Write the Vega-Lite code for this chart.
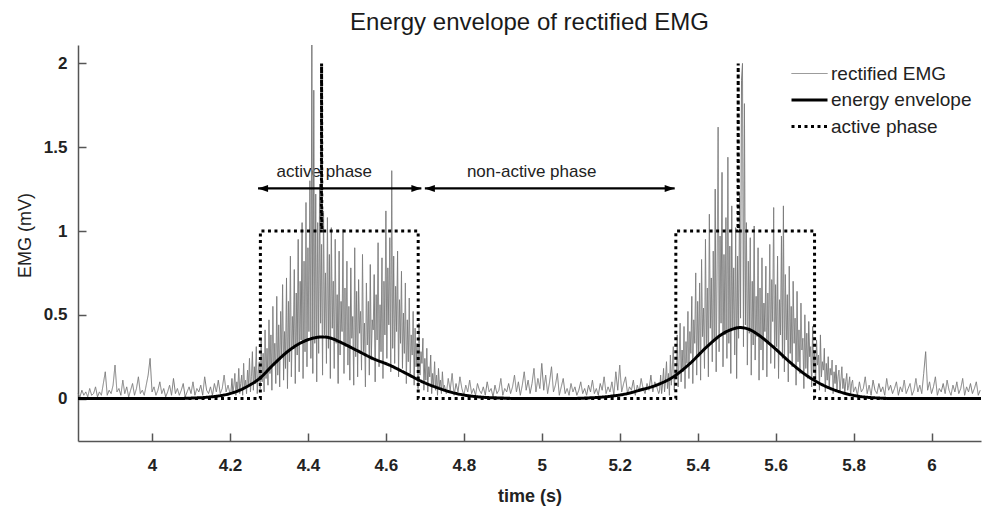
{
"$schema": "https://vega.github.io/schema/vega-lite/v6.json",
"width": 903, "height": 396,
"autosize": {"type": "none"},
"padding": {"left": 78, "top": 45, "right": 7, "bottom": 67},
"background": "white",
"title": {"text": "Energy envelope of rectified EMG", "fontSize": 24, "fontWeight": "normal", "font": "Liberation Sans", "color": "#1a1a1a", "frame": "group", "anchor": "middle", "baseline": "alphabetic", "offset": 13, "dy": 24},
"config": {
  "font": "Liberation Sans",
  "view": {"stroke": null},
  "axis": {"domainColor": "#555", "tickColor": "#555", "domainWidth": 1.5, "tickWidth": 1.5, "tickSize": -8, "labelFont": "Liberation Sans", "labelFontSize": 17, "labelFontWeight": "bold", "labelColor": "#222", "titleFont": "Liberation Sans", "titleColor": "#222", "grid": false}
},
"datasets": {
"emg": [
{"t":3.81,"v":0.03,"s":"rectified EMG"},{"t":3.815,"v":0.01,"s":"rectified EMG"},{"t":3.82,"v":0.05,"s":"rectified EMG"},{"t":3.825,"v":0.02,"s":"rectified EMG"},{"t":3.83,"v":0.04,"s":"rectified EMG"},{"t":3.835,"v":0.01,"s":"rectified EMG"},{"t":3.84,"v":0.06,"s":"rectified EMG"},{"t":3.845,"v":0.02,"s":"rectified EMG"},{"t":3.85,"v":0.03,"s":"rectified EMG"},{"t":3.855,"v":0.07,"s":"rectified EMG"},
{"t":3.86,"v":0.01,"s":"rectified EMG"},{"t":3.865,"v":0.04,"s":"rectified EMG"},{"t":3.87,"v":0.02,"s":"rectified EMG"},{"t":3.875,"v":0.09,"s":"rectified EMG"},{"t":3.88,"v":0.16,"s":"rectified EMG"},{"t":3.885,"v":0.02,"s":"rectified EMG"},{"t":3.89,"v":0.05,"s":"rectified EMG"},{"t":3.895,"v":0.03,"s":"rectified EMG"},{"t":3.9,"v":0.08,"s":"rectified EMG"},{"t":3.905,"v":0.2,"s":"rectified EMG"},
{"t":3.91,"v":0.04,"s":"rectified EMG"},{"t":3.915,"v":0.06,"s":"rectified EMG"},{"t":3.92,"v":0.02,"s":"rectified EMG"},{"t":3.925,"v":0.11,"s":"rectified EMG"},{"t":3.93,"v":0.03,"s":"rectified EMG"},{"t":3.935,"v":0.07,"s":"rectified EMG"},{"t":3.94,"v":0.01,"s":"rectified EMG"},{"t":3.945,"v":0.05,"s":"rectified EMG"},{"t":3.95,"v":0.09,"s":"rectified EMG"},{"t":3.955,"v":0.02,"s":"rectified EMG"},
{"t":3.96,"v":0.06,"s":"rectified EMG"},{"t":3.965,"v":0.13,"s":"rectified EMG"},{"t":3.97,"v":0.03,"s":"rectified EMG"},{"t":3.975,"v":0.05,"s":"rectified EMG"},{"t":3.98,"v":0.02,"s":"rectified EMG"},{"t":3.985,"v":0.08,"s":"rectified EMG"},{"t":3.99,"v":0.14,"s":"rectified EMG"},{"t":3.995,"v":0.24,"s":"rectified EMG"},{"t":4.0,"v":0.04,"s":"rectified EMG"},{"t":4.005,"v":0.07,"s":"rectified EMG"},
{"t":4.01,"v":0.02,"s":"rectified EMG"},{"t":4.015,"v":0.05,"s":"rectified EMG"},{"t":4.02,"v":0.1,"s":"rectified EMG"},{"t":4.025,"v":0.03,"s":"rectified EMG"},{"t":4.03,"v":0.06,"s":"rectified EMG"},{"t":4.035,"v":0.01,"s":"rectified EMG"},{"t":4.04,"v":0.04,"s":"rectified EMG"},{"t":4.045,"v":0.08,"s":"rectified EMG"},{"t":4.05,"v":0.02,"s":"rectified EMG"},{"t":4.055,"v":0.12,"s":"rectified EMG"},
{"t":4.06,"v":0.03,"s":"rectified EMG"},{"t":4.065,"v":0.06,"s":"rectified EMG"},{"t":4.07,"v":0.02,"s":"rectified EMG"},{"t":4.075,"v":0.05,"s":"rectified EMG"},{"t":4.08,"v":0.09,"s":"rectified EMG"},{"t":4.085,"v":0.01,"s":"rectified EMG"},{"t":4.09,"v":0.04,"s":"rectified EMG"},{"t":4.095,"v":0.07,"s":"rectified EMG"},{"t":4.1,"v":0.03,"s":"rectified EMG"},{"t":4.105,"v":0.1,"s":"rectified EMG"},
{"t":4.11,"v":0.02,"s":"rectified EMG"},{"t":4.115,"v":0.06,"s":"rectified EMG"},{"t":4.12,"v":0.04,"s":"rectified EMG"},{"t":4.125,"v":0.08,"s":"rectified EMG"},{"t":4.13,"v":0.02,"s":"rectified EMG"},{"t":4.135,"v":0.13,"s":"rectified EMG"},{"t":4.14,"v":0.05,"s":"rectified EMG"},{"t":4.145,"v":0.03,"s":"rectified EMG"},{"t":4.15,"v":0.07,"s":"rectified EMG"},{"t":4.155,"v":0.02,"s":"rectified EMG"},
{"t":4.16,"v":0.09,"s":"rectified EMG"},{"t":4.165,"v":0.04,"s":"rectified EMG"},{"t":4.17,"v":0.11,"s":"rectified EMG"},{"t":4.175,"v":0.03,"s":"rectified EMG"},{"t":4.18,"v":0.06,"s":"rectified EMG"},{"t":4.185,"v":0.14,"s":"rectified EMG"},{"t":4.19,"v":0.04,"s":"rectified EMG"},{"t":4.195,"v":0.08,"s":"rectified EMG"},{"t":4.2,"v":0.03,"s":"rectified EMG"},
{"t":4.2025,"v":0.04,"s":"rectified EMG"},{"t":4.205,"v":0.12,"s":"rectified EMG"},{"t":4.2075,"v":0.03,"s":"rectified EMG"},{"t":4.21,"v":0.08,"s":"rectified EMG"},{"t":4.2125,"v":0.15,"s":"rectified EMG"},{"t":4.215,"v":0.02,"s":"rectified EMG"},{"t":4.2175,"v":0.1,"s":"rectified EMG"},{"t":4.22,"v":0.05,"s":"rectified EMG"},{"t":4.2225,"v":0.18,"s":"rectified EMG"},{"t":4.225,"v":0.03,"s":"rectified EMG"},
{"t":4.2275,"v":0.09,"s":"rectified EMG"},{"t":4.23,"v":0.14,"s":"rectified EMG"},{"t":4.2325,"v":0.02,"s":"rectified EMG"},{"t":4.235,"v":0.21,"s":"rectified EMG"},{"t":4.2375,"v":0.06,"s":"rectified EMG"},{"t":4.24,"v":0.11,"s":"rectified EMG"},{"t":4.2425,"v":0.03,"s":"rectified EMG"},{"t":4.245,"v":0.17,"s":"rectified EMG"},{"t":4.2475,"v":0.07,"s":"rectified EMG"},{"t":4.25,"v":0.24,"s":"rectified EMG"},
{"t":4.2525,"v":0.04,"s":"rectified EMG"},{"t":4.255,"v":0.13,"s":"rectified EMG"},{"t":4.2575,"v":0.28,"s":"rectified EMG"},{"t":4.26,"v":0.05,"s":"rectified EMG"},{"t":4.2625,"v":0.19,"s":"rectified EMG"},{"t":4.265,"v":0.09,"s":"rectified EMG"},{"t":4.2675,"v":0.31,"s":"rectified EMG"},{"t":4.27,"v":0.03,"s":"rectified EMG"},{"t":4.2725,"v":0.16,"s":"rectified EMG"},{"t":4.275,"v":0.22,"s":"rectified EMG"},
{"t":4.2775,"v":0.06,"s":"rectified EMG"},{"t":4.28,"v":0.35,"s":"rectified EMG"},{"t":4.2825,"v":0.1,"s":"rectified EMG"},{"t":4.285,"v":0.27,"s":"rectified EMG"},{"t":4.2875,"v":0.04,"s":"rectified EMG"},{"t":4.29,"v":0.41,"s":"rectified EMG"},{"t":4.2925,"v":0.12,"s":"rectified EMG"},{"t":4.295,"v":0.3,"s":"rectified EMG"},{"t":4.2975,"v":0.08,"s":"rectified EMG"},{"t":4.3,"v":0.47,"s":"rectified EMG"},
{"t":4.3025,"v":0.15,"s":"rectified EMG"},{"t":4.305,"v":0.38,"s":"rectified EMG"},{"t":4.3075,"v":0.05,"s":"rectified EMG"},{"t":4.31,"v":0.55,"s":"rectified EMG"},{"t":4.3125,"v":0.2,"s":"rectified EMG"},{"t":4.315,"v":0.33,"s":"rectified EMG"},{"t":4.3175,"v":0.09,"s":"rectified EMG"},{"t":4.32,"v":0.61,"s":"rectified EMG"},{"t":4.3225,"v":0.14,"s":"rectified EMG"},{"t":4.325,"v":0.44,"s":"rectified EMG"},
{"t":4.3275,"v":0.07,"s":"rectified EMG"},{"t":4.33,"v":0.52,"s":"rectified EMG"},{"t":4.3325,"v":0.25,"s":"rectified EMG"},{"t":4.335,"v":0.68,"s":"rectified EMG"},{"t":4.3375,"v":0.11,"s":"rectified EMG"},{"t":4.34,"v":0.4,"s":"rectified EMG"},{"t":4.3425,"v":0.18,"s":"rectified EMG"},{"t":4.345,"v":0.72,"s":"rectified EMG"},{"t":4.3475,"v":0.06,"s":"rectified EMG"},{"t":4.35,"v":0.58,"s":"rectified EMG"},
{"t":4.3525,"v":0.22,"s":"rectified EMG"},{"t":4.355,"v":0.85,"s":"rectified EMG"},{"t":4.3575,"v":0.13,"s":"rectified EMG"},{"t":4.36,"v":0.49,"s":"rectified EMG"},{"t":4.3625,"v":0.3,"s":"rectified EMG"},{"t":4.365,"v":0.77,"s":"rectified EMG"},{"t":4.3675,"v":0.09,"s":"rectified EMG"},{"t":4.37,"v":0.63,"s":"rectified EMG"},{"t":4.3725,"v":0.26,"s":"rectified EMG"},{"t":4.375,"v":0.95,"s":"rectified EMG"},
{"t":4.3775,"v":0.16,"s":"rectified EMG"},{"t":4.38,"v":0.7,"s":"rectified EMG"},{"t":4.3825,"v":0.35,"s":"rectified EMG"},{"t":4.385,"v":1.05,"s":"rectified EMG"},{"t":4.3875,"v":0.12,"s":"rectified EMG"},{"t":4.39,"v":0.82,"s":"rectified EMG"},{"t":4.3925,"v":0.28,"s":"rectified EMG"},{"t":4.395,"v":1.17,"s":"rectified EMG"},{"t":4.3975,"v":0.19,"s":"rectified EMG"},{"t":4.4,"v":0.9,"s":"rectified EMG"},
{"t":4.4025,"v":0.4,"s":"rectified EMG"},{"t":4.405,"v":1.3,"s":"rectified EMG"},{"t":4.4075,"v":0.24,"s":"rectified EMG"},{"t":4.41,"v":2.11,"s":"rectified EMG"},{"t":4.4125,"v":0.15,"s":"rectified EMG"},{"t":4.415,"v":1.84,"s":"rectified EMG"},{"t":4.4175,"v":0.33,"s":"rectified EMG"},{"t":4.42,"v":1.22,"s":"rectified EMG"},{"t":4.4225,"v":0.1,"s":"rectified EMG"},{"t":4.425,"v":1.05,"s":"rectified EMG"},
{"t":4.4275,"v":0.27,"s":"rectified EMG"},{"t":4.43,"v":1.28,"s":"rectified EMG"},{"t":4.4325,"v":0.45,"s":"rectified EMG"},{"t":4.435,"v":0.92,"s":"rectified EMG"},{"t":4.4375,"v":0.14,"s":"rectified EMG"},{"t":4.44,"v":1.12,"s":"rectified EMG"},{"t":4.4425,"v":0.38,"s":"rectified EMG"},{"t":4.445,"v":0.75,"s":"rectified EMG"},{"t":4.4475,"v":0.21,"s":"rectified EMG"},{"t":4.45,"v":1.08,"s":"rectified EMG"},
{"t":4.4525,"v":0.3,"s":"rectified EMG"},{"t":4.455,"v":0.86,"s":"rectified EMG"},{"t":4.4575,"v":0.12,"s":"rectified EMG"},{"t":4.46,"v":1.02,"s":"rectified EMG"},{"t":4.4625,"v":0.42,"s":"rectified EMG"},{"t":4.465,"v":0.7,"s":"rectified EMG"},{"t":4.4675,"v":0.18,"s":"rectified EMG"},{"t":4.47,"v":0.95,"s":"rectified EMG"},{"t":4.4725,"v":0.33,"s":"rectified EMG"},{"t":4.475,"v":0.62,"s":"rectified EMG"},
{"t":4.4775,"v":0.09,"s":"rectified EMG"},{"t":4.48,"v":0.88,"s":"rectified EMG"},{"t":4.4825,"v":0.26,"s":"rectified EMG"},{"t":4.485,"v":0.58,"s":"rectified EMG"},{"t":4.4875,"v":0.4,"s":"rectified EMG"},{"t":4.49,"v":1.01,"s":"rectified EMG"},{"t":4.4925,"v":0.15,"s":"rectified EMG"},{"t":4.495,"v":0.66,"s":"rectified EMG"},{"t":4.4975,"v":0.31,"s":"rectified EMG"},{"t":4.5,"v":0.82,"s":"rectified EMG"},
{"t":4.5025,"v":0.2,"s":"rectified EMG"},{"t":4.505,"v":0.55,"s":"rectified EMG"},{"t":4.5075,"v":0.11,"s":"rectified EMG"},{"t":4.51,"v":0.78,"s":"rectified EMG"},{"t":4.5125,"v":0.36,"s":"rectified EMG"},{"t":4.515,"v":0.49,"s":"rectified EMG"},{"t":4.5175,"v":0.08,"s":"rectified EMG"},{"t":4.52,"v":0.9,"s":"rectified EMG"},{"t":4.5225,"v":0.25,"s":"rectified EMG"},{"t":4.525,"v":0.64,"s":"rectified EMG"},
{"t":4.5275,"v":0.13,"s":"rectified EMG"},{"t":4.53,"v":0.71,"s":"rectified EMG"},{"t":4.5325,"v":0.39,"s":"rectified EMG"},{"t":4.535,"v":0.52,"s":"rectified EMG"},{"t":4.5375,"v":0.17,"s":"rectified EMG"},{"t":4.54,"v":0.86,"s":"rectified EMG"},{"t":4.5425,"v":0.28,"s":"rectified EMG"},{"t":4.545,"v":0.45,"s":"rectified EMG"},{"t":4.5475,"v":0.07,"s":"rectified EMG"},{"t":4.55,"v":0.69,"s":"rectified EMG"},
{"t":4.5525,"v":0.32,"s":"rectified EMG"},{"t":4.555,"v":0.58,"s":"rectified EMG"},{"t":4.5575,"v":0.14,"s":"rectified EMG"},{"t":4.56,"v":0.8,"s":"rectified EMG"},{"t":4.5625,"v":0.23,"s":"rectified EMG"},{"t":4.565,"v":0.47,"s":"rectified EMG"},{"t":4.5675,"v":0.41,"s":"rectified EMG"},{"t":4.57,"v":0.74,"s":"rectified EMG"},{"t":4.5725,"v":0.1,"s":"rectified EMG"},{"t":4.575,"v":0.62,"s":"rectified EMG"},
{"t":4.5775,"v":0.35,"s":"rectified EMG"},{"t":4.58,"v":0.93,"s":"rectified EMG"},{"t":4.5825,"v":0.19,"s":"rectified EMG"},{"t":4.585,"v":0.56,"s":"rectified EMG"},{"t":4.5875,"v":0.28,"s":"rectified EMG"},{"t":4.59,"v":0.84,"s":"rectified EMG"},{"t":4.5925,"v":0.12,"s":"rectified EMG"},{"t":4.595,"v":0.7,"s":"rectified EMG"},{"t":4.5975,"v":0.38,"s":"rectified EMG"},{"t":4.6,"v":1.12,"s":"rectified EMG"},
{"t":4.6025,"v":0.24,"s":"rectified EMG"},{"t":4.605,"v":0.78,"s":"rectified EMG"},{"t":4.6075,"v":0.44,"s":"rectified EMG"},{"t":4.61,"v":0.96,"s":"rectified EMG"},{"t":4.6125,"v":0.16,"s":"rectified EMG"},{"t":4.615,"v":1.36,"s":"rectified EMG"},{"t":4.6175,"v":0.3,"s":"rectified EMG"},{"t":4.62,"v":0.85,"s":"rectified EMG"},{"t":4.6225,"v":0.21,"s":"rectified EMG"},{"t":4.625,"v":0.67,"s":"rectified EMG"},
{"t":4.6275,"v":0.4,"s":"rectified EMG"},{"t":4.63,"v":0.88,"s":"rectified EMG"},{"t":4.6325,"v":0.13,"s":"rectified EMG"},{"t":4.635,"v":0.59,"s":"rectified EMG"},{"t":4.6375,"v":0.33,"s":"rectified EMG"},{"t":4.64,"v":0.76,"s":"rectified EMG"},{"t":4.6425,"v":0.18,"s":"rectified EMG"},{"t":4.645,"v":0.51,"s":"rectified EMG"},{"t":4.6475,"v":0.27,"s":"rectified EMG"},{"t":4.65,"v":0.69,"s":"rectified EMG"},
{"t":4.6525,"v":0.09,"s":"rectified EMG"},{"t":4.655,"v":0.47,"s":"rectified EMG"},{"t":4.6575,"v":0.22,"s":"rectified EMG"},{"t":4.66,"v":0.6,"s":"rectified EMG"},{"t":4.6625,"v":0.15,"s":"rectified EMG"},{"t":4.665,"v":0.38,"s":"rectified EMG"},{"t":4.6675,"v":0.26,"s":"rectified EMG"},{"t":4.67,"v":0.52,"s":"rectified EMG"},{"t":4.6725,"v":0.08,"s":"rectified EMG"},{"t":4.675,"v":0.42,"s":"rectified EMG"},
{"t":4.6775,"v":0.19,"s":"rectified EMG"},{"t":4.68,"v":0.33,"s":"rectified EMG"},{"t":4.6825,"v":0.06,"s":"rectified EMG"},{"t":4.685,"v":0.45,"s":"rectified EMG"},{"t":4.6875,"v":0.14,"s":"rectified EMG"},{"t":4.69,"v":0.28,"s":"rectified EMG"},{"t":4.6925,"v":0.21,"s":"rectified EMG"},{"t":4.695,"v":0.36,"s":"rectified EMG"},{"t":4.6975,"v":0.05,"s":"rectified EMG"},{"t":4.7,"v":0.24,"s":"rectified EMG"},
{"t":4.7025,"v":0.11,"s":"rectified EMG"},{"t":4.705,"v":0.3,"s":"rectified EMG"},{"t":4.7075,"v":0.04,"s":"rectified EMG"},{"t":4.71,"v":0.19,"s":"rectified EMG"},{"t":4.7125,"v":0.13,"s":"rectified EMG"},{"t":4.715,"v":0.26,"s":"rectified EMG"},{"t":4.7175,"v":0.03,"s":"rectified EMG"},{"t":4.72,"v":0.15,"s":"rectified EMG"},{"t":4.7225,"v":0.08,"s":"rectified EMG"},{"t":4.725,"v":0.22,"s":"rectified EMG"},
{"t":4.7275,"v":0.05,"s":"rectified EMG"},{"t":4.73,"v":0.14,"s":"rectified EMG"},{"t":4.7325,"v":0.02,"s":"rectified EMG"},{"t":4.735,"v":0.18,"s":"rectified EMG"},{"t":4.7375,"v":0.07,"s":"rectified EMG"},{"t":4.74,"v":0.11,"s":"rectified EMG"},{"t":4.7425,"v":0.03,"s":"rectified EMG"},{"t":4.745,"v":0.16,"s":"rectified EMG"},{"t":4.7475,"v":0.06,"s":"rectified EMG"},
{"t":4.75,"v":0.08,"s":"rectified EMG"},{"t":4.755,"v":0.03,"s":"rectified EMG"},{"t":4.76,"v":0.12,"s":"rectified EMG"},{"t":4.765,"v":0.05,"s":"rectified EMG"},{"t":4.77,"v":0.15,"s":"rectified EMG"},{"t":4.775,"v":0.02,"s":"rectified EMG"},{"t":4.78,"v":0.09,"s":"rectified EMG"},{"t":4.785,"v":0.04,"s":"rectified EMG"},{"t":4.79,"v":0.13,"s":"rectified EMG"},{"t":4.795,"v":0.06,"s":"rectified EMG"},
{"t":4.8,"v":0.02,"s":"rectified EMG"},{"t":4.805,"v":0.08,"s":"rectified EMG"},{"t":4.81,"v":0.04,"s":"rectified EMG"},{"t":4.815,"v":0.11,"s":"rectified EMG"},{"t":4.82,"v":0.03,"s":"rectified EMG"},{"t":4.825,"v":0.06,"s":"rectified EMG"},{"t":4.83,"v":0.02,"s":"rectified EMG"},{"t":4.835,"v":0.09,"s":"rectified EMG"},{"t":4.84,"v":0.05,"s":"rectified EMG"},{"t":4.845,"v":0.03,"s":"rectified EMG"},
{"t":4.85,"v":0.07,"s":"rectified EMG"},{"t":4.855,"v":0.02,"s":"rectified EMG"},{"t":4.86,"v":0.1,"s":"rectified EMG"},{"t":4.865,"v":0.04,"s":"rectified EMG"},{"t":4.87,"v":0.06,"s":"rectified EMG"},{"t":4.875,"v":0.01,"s":"rectified EMG"},{"t":4.88,"v":0.08,"s":"rectified EMG"},{"t":4.885,"v":0.03,"s":"rectified EMG"},{"t":4.89,"v":0.05,"s":"rectified EMG"},{"t":4.895,"v":0.12,"s":"rectified EMG"},
{"t":4.9,"v":0.02,"s":"rectified EMG"},{"t":4.905,"v":0.06,"s":"rectified EMG"},{"t":4.91,"v":0.04,"s":"rectified EMG"},{"t":4.915,"v":0.09,"s":"rectified EMG"},{"t":4.92,"v":0.03,"s":"rectified EMG"},{"t":4.925,"v":0.07,"s":"rectified EMG"},{"t":4.93,"v":0.14,"s":"rectified EMG"},{"t":4.935,"v":0.04,"s":"rectified EMG"},{"t":4.94,"v":0.1,"s":"rectified EMG"},{"t":4.945,"v":0.02,"s":"rectified EMG"},
{"t":4.95,"v":0.08,"s":"rectified EMG"},{"t":4.955,"v":0.16,"s":"rectified EMG"},{"t":4.96,"v":0.05,"s":"rectified EMG"},{"t":4.965,"v":0.11,"s":"rectified EMG"},{"t":4.97,"v":0.03,"s":"rectified EMG"},{"t":4.975,"v":0.09,"s":"rectified EMG"},{"t":4.98,"v":0.18,"s":"rectified EMG"},{"t":4.985,"v":0.04,"s":"rectified EMG"},{"t":4.99,"v":0.12,"s":"rectified EMG"},{"t":4.995,"v":0.06,"s":"rectified EMG"},
{"t":5.0,"v":0.21,"s":"rectified EMG"},{"t":5.005,"v":0.05,"s":"rectified EMG"},{"t":5.01,"v":0.14,"s":"rectified EMG"},{"t":5.015,"v":0.03,"s":"rectified EMG"},{"t":5.02,"v":0.1,"s":"rectified EMG"},{"t":5.025,"v":0.19,"s":"rectified EMG"},{"t":5.03,"v":0.04,"s":"rectified EMG"},{"t":5.035,"v":0.08,"s":"rectified EMG"},{"t":5.04,"v":0.15,"s":"rectified EMG"},{"t":5.045,"v":0.02,"s":"rectified EMG"},
{"t":5.05,"v":0.07,"s":"rectified EMG"},{"t":5.055,"v":0.12,"s":"rectified EMG"},{"t":5.06,"v":0.03,"s":"rectified EMG"},{"t":5.065,"v":0.06,"s":"rectified EMG"},{"t":5.07,"v":0.02,"s":"rectified EMG"},{"t":5.075,"v":0.09,"s":"rectified EMG"},{"t":5.08,"v":0.04,"s":"rectified EMG"},{"t":5.085,"v":0.07,"s":"rectified EMG"},{"t":5.09,"v":0.02,"s":"rectified EMG"},{"t":5.095,"v":0.05,"s":"rectified EMG"},
{"t":5.1,"v":0.1,"s":"rectified EMG"},{"t":5.105,"v":0.03,"s":"rectified EMG"},{"t":5.11,"v":0.06,"s":"rectified EMG"},{"t":5.115,"v":0.02,"s":"rectified EMG"},{"t":5.12,"v":0.08,"s":"rectified EMG"},{"t":5.125,"v":0.04,"s":"rectified EMG"},{"t":5.13,"v":0.11,"s":"rectified EMG"},{"t":5.135,"v":0.03,"s":"rectified EMG"},{"t":5.14,"v":0.06,"s":"rectified EMG"},{"t":5.145,"v":0.02,"s":"rectified EMG"},
{"t":5.15,"v":0.09,"s":"rectified EMG"},{"t":5.155,"v":0.05,"s":"rectified EMG"},{"t":5.16,"v":0.13,"s":"rectified EMG"},{"t":5.165,"v":0.03,"s":"rectified EMG"},{"t":5.17,"v":0.07,"s":"rectified EMG"},{"t":5.175,"v":0.04,"s":"rectified EMG"},{"t":5.18,"v":0.1,"s":"rectified EMG"},{"t":5.185,"v":0.02,"s":"rectified EMG"},{"t":5.19,"v":0.16,"s":"rectified EMG"},{"t":5.195,"v":0.05,"s":"rectified EMG"},
{"t":5.2,"v":0.2,"s":"rectified EMG"},{"t":5.205,"v":0.04,"s":"rectified EMG"},{"t":5.21,"v":0.09,"s":"rectified EMG"},{"t":5.215,"v":0.13,"s":"rectified EMG"},{"t":5.22,"v":0.03,"s":"rectified EMG"},{"t":5.225,"v":0.07,"s":"rectified EMG"},{"t":5.23,"v":0.05,"s":"rectified EMG"},{"t":5.235,"v":0.11,"s":"rectified EMG"},{"t":5.24,"v":0.02,"s":"rectified EMG"},{"t":5.245,"v":0.08,"s":"rectified EMG"},
{"t":5.25,"v":0.04,"s":"rectified EMG"},{"t":5.255,"v":0.12,"s":"rectified EMG"},{"t":5.26,"v":0.06,"s":"rectified EMG"},{"t":5.265,"v":0.03,"s":"rectified EMG"},{"t":5.27,"v":0.09,"s":"rectified EMG"},{"t":5.275,"v":0.05,"s":"rectified EMG"},{"t":5.28,"v":0.14,"s":"rectified EMG"},{"t":5.285,"v":0.04,"s":"rectified EMG"},{"t":5.29,"v":0.1,"s":"rectified EMG"},{"t":5.295,"v":0.07,"s":"rectified EMG"},
{"t":5.3,"v":0.03,"s":"rectified EMG"},
{"t":5.3025,"v":0.05,"s":"rectified EMG"},{"t":5.305,"v":0.14,"s":"rectified EMG"},{"t":5.3075,"v":0.03,"s":"rectified EMG"},{"t":5.31,"v":0.09,"s":"rectified EMG"},{"t":5.3125,"v":0.18,"s":"rectified EMG"},{"t":5.315,"v":0.04,"s":"rectified EMG"},{"t":5.3175,"v":0.11,"s":"rectified EMG"},{"t":5.32,"v":0.22,"s":"rectified EMG"},{"t":5.3225,"v":0.06,"s":"rectified EMG"},{"t":5.325,"v":0.15,"s":"rectified EMG"},
{"t":5.3275,"v":0.02,"s":"rectified EMG"},{"t":5.33,"v":0.26,"s":"rectified EMG"},{"t":5.3325,"v":0.08,"s":"rectified EMG"},{"t":5.335,"v":0.19,"s":"rectified EMG"},{"t":5.3375,"v":0.31,"s":"rectified EMG"},{"t":5.34,"v":0.05,"s":"rectified EMG"},{"t":5.3425,"v":0.17,"s":"rectified EMG"},{"t":5.345,"v":0.12,"s":"rectified EMG"},{"t":5.3475,"v":0.38,"s":"rectified EMG"},{"t":5.35,"v":0.07,"s":"rectified EMG"},
{"t":5.3525,"v":0.24,"s":"rectified EMG"},{"t":5.355,"v":0.45,"s":"rectified EMG"},{"t":5.3575,"v":0.1,"s":"rectified EMG"},{"t":5.36,"v":0.29,"s":"rectified EMG"},{"t":5.3625,"v":0.16,"s":"rectified EMG"},{"t":5.365,"v":0.43,"s":"rectified EMG"},{"t":5.3675,"v":0.06,"s":"rectified EMG"},{"t":5.37,"v":0.34,"s":"rectified EMG"},{"t":5.3725,"v":0.21,"s":"rectified EMG"},{"t":5.375,"v":0.52,"s":"rectified EMG"},
{"t":5.3775,"v":0.12,"s":"rectified EMG"},{"t":5.38,"v":0.4,"s":"rectified EMG"},{"t":5.3825,"v":0.27,"s":"rectified EMG"},{"t":5.385,"v":0.61,"s":"rectified EMG"},{"t":5.3875,"v":0.09,"s":"rectified EMG"},{"t":5.39,"v":0.47,"s":"rectified EMG"},{"t":5.3925,"v":0.33,"s":"rectified EMG"},{"t":5.395,"v":0.75,"s":"rectified EMG"},{"t":5.3975,"v":0.14,"s":"rectified EMG"},{"t":5.4,"v":0.58,"s":"rectified EMG"},
{"t":5.4025,"v":0.25,"s":"rectified EMG"},{"t":5.405,"v":0.69,"s":"rectified EMG"},{"t":5.4075,"v":0.11,"s":"rectified EMG"},{"t":5.41,"v":0.83,"s":"rectified EMG"},{"t":5.4125,"v":0.37,"s":"rectified EMG"},{"t":5.415,"v":0.54,"s":"rectified EMG"},{"t":5.4175,"v":0.18,"s":"rectified EMG"},{"t":5.42,"v":0.95,"s":"rectified EMG"},{"t":5.4225,"v":0.3,"s":"rectified EMG"},{"t":5.425,"v":0.66,"s":"rectified EMG"},
{"t":5.4275,"v":0.13,"s":"rectified EMG"},{"t":5.43,"v":1.1,"s":"rectified EMG"},{"t":5.4325,"v":0.42,"s":"rectified EMG"},{"t":5.435,"v":0.72,"s":"rectified EMG"},{"t":5.4375,"v":0.22,"s":"rectified EMG"},{"t":5.44,"v":0.88,"s":"rectified EMG"},{"t":5.4425,"v":0.35,"s":"rectified EMG"},{"t":5.445,"v":1.25,"s":"rectified EMG"},{"t":5.4475,"v":0.16,"s":"rectified EMG"},{"t":5.45,"v":0.8,"s":"rectified EMG"},
{"t":5.4525,"v":1.62,"s":"rectified EMG"},{"t":5.455,"v":0.28,"s":"rectified EMG"},{"t":5.4575,"v":0.97,"s":"rectified EMG"},{"t":5.46,"v":0.45,"s":"rectified EMG"},{"t":5.4625,"v":1.35,"s":"rectified EMG"},{"t":5.465,"v":0.19,"s":"rectified EMG"},{"t":5.4675,"v":0.86,"s":"rectified EMG"},{"t":5.47,"v":0.38,"s":"rectified EMG"},{"t":5.4725,"v":1.08,"s":"rectified EMG"},{"t":5.475,"v":0.24,"s":"rectified EMG"},
{"t":5.4775,"v":1.44,"s":"rectified EMG"},{"t":5.48,"v":0.33,"s":"rectified EMG"},{"t":5.4825,"v":0.91,"s":"rectified EMG"},{"t":5.485,"v":0.15,"s":"rectified EMG"},{"t":5.4875,"v":1.15,"s":"rectified EMG"},{"t":5.49,"v":0.41,"s":"rectified EMG"},{"t":5.4925,"v":0.78,"s":"rectified EMG"},{"t":5.495,"v":0.26,"s":"rectified EMG"},{"t":5.4975,"v":1.02,"s":"rectified EMG"},{"t":5.5,"v":0.12,"s":"rectified EMG"},
{"t":5.5025,"v":0.85,"s":"rectified EMG"},{"t":5.505,"v":0.36,"s":"rectified EMG"},{"t":5.5075,"v":1.21,"s":"rectified EMG"},{"t":5.51,"v":0.48,"s":"rectified EMG"},{"t":5.5125,"v":1.9,"s":"rectified EMG"},{"t":5.515,"v":2.0,"s":"rectified EMG"},{"t":5.5175,"v":0.31,"s":"rectified EMG"},{"t":5.52,"v":1.76,"s":"rectified EMG"},{"t":5.5225,"v":0.44,"s":"rectified EMG"},{"t":5.525,"v":1.05,"s":"rectified EMG"},
{"t":5.5275,"v":0.2,"s":"rectified EMG"},{"t":5.53,"v":0.82,"s":"rectified EMG"},{"t":5.5325,"v":0.39,"s":"rectified EMG"},{"t":5.535,"v":0.96,"s":"rectified EMG"},{"t":5.5375,"v":0.14,"s":"rectified EMG"},{"t":5.54,"v":0.7,"s":"rectified EMG"},{"t":5.5425,"v":0.32,"s":"rectified EMG"},{"t":5.545,"v":1.03,"s":"rectified EMG"},{"t":5.5475,"v":0.23,"s":"rectified EMG"},{"t":5.55,"v":0.61,"s":"rectified EMG"},
{"t":5.5525,"v":0.37,"s":"rectified EMG"},{"t":5.555,"v":0.9,"s":"rectified EMG"},{"t":5.5575,"v":0.11,"s":"rectified EMG"},{"t":5.56,"v":0.66,"s":"rectified EMG"},{"t":5.5625,"v":0.29,"s":"rectified EMG"},{"t":5.565,"v":0.84,"s":"rectified EMG"},{"t":5.5675,"v":0.17,"s":"rectified EMG"},{"t":5.57,"v":0.57,"s":"rectified EMG"},{"t":5.5725,"v":0.4,"s":"rectified EMG"},{"t":5.575,"v":0.79,"s":"rectified EMG"},
{"t":5.5775,"v":0.13,"s":"rectified EMG"},{"t":5.58,"v":0.63,"s":"rectified EMG"},{"t":5.5825,"v":0.34,"s":"rectified EMG"},{"t":5.585,"v":0.92,"s":"rectified EMG"},{"t":5.5875,"v":0.21,"s":"rectified EMG"},{"t":5.59,"v":0.71,"s":"rectified EMG"},{"t":5.5925,"v":0.46,"s":"rectified EMG"},{"t":5.595,"v":1.14,"s":"rectified EMG"},{"t":5.5975,"v":0.18,"s":"rectified EMG"},{"t":5.6,"v":0.68,"s":"rectified EMG"},
{"t":5.6025,"v":0.31,"s":"rectified EMG"},{"t":5.605,"v":0.85,"s":"rectified EMG"},{"t":5.6075,"v":0.12,"s":"rectified EMG"},{"t":5.61,"v":0.59,"s":"rectified EMG"},{"t":5.6125,"v":0.38,"s":"rectified EMG"},{"t":5.615,"v":0.97,"s":"rectified EMG"},{"t":5.6175,"v":0.24,"s":"rectified EMG"},{"t":5.62,"v":1.15,"s":"rectified EMG"},{"t":5.6225,"v":0.16,"s":"rectified EMG"},{"t":5.625,"v":0.74,"s":"rectified EMG"},
{"t":5.6275,"v":0.35,"s":"rectified EMG"},{"t":5.63,"v":0.62,"s":"rectified EMG"},{"t":5.6325,"v":0.1,"s":"rectified EMG"},{"t":5.635,"v":0.79,"s":"rectified EMG"},{"t":5.6375,"v":0.27,"s":"rectified EMG"},{"t":5.64,"v":0.55,"s":"rectified EMG"},{"t":5.6425,"v":0.19,"s":"rectified EMG"},{"t":5.645,"v":0.7,"s":"rectified EMG"},{"t":5.6475,"v":0.33,"s":"rectified EMG"},{"t":5.65,"v":0.48,"s":"rectified EMG"},
{"t":5.6525,"v":0.08,"s":"rectified EMG"},{"t":5.655,"v":0.64,"s":"rectified EMG"},{"t":5.6575,"v":0.22,"s":"rectified EMG"},{"t":5.66,"v":0.41,"s":"rectified EMG"},{"t":5.6625,"v":0.15,"s":"rectified EMG"},{"t":5.665,"v":0.57,"s":"rectified EMG"},{"t":5.6675,"v":0.29,"s":"rectified EMG"},{"t":5.67,"v":0.36,"s":"rectified EMG"},{"t":5.6725,"v":0.06,"s":"rectified EMG"},{"t":5.675,"v":0.5,"s":"rectified EMG"},
{"t":5.6775,"v":0.18,"s":"rectified EMG"},{"t":5.68,"v":0.39,"s":"rectified EMG"},{"t":5.6825,"v":0.12,"s":"rectified EMG"},{"t":5.685,"v":0.46,"s":"rectified EMG"},{"t":5.6875,"v":0.25,"s":"rectified EMG"},{"t":5.69,"v":0.31,"s":"rectified EMG"},{"t":5.6925,"v":0.07,"s":"rectified EMG"},{"t":5.695,"v":0.43,"s":"rectified EMG"},{"t":5.6975,"v":0.16,"s":"rectified EMG"},{"t":5.7,"v":0.28,"s":"rectified EMG"},
{"t":5.7025,"v":0.09,"s":"rectified EMG"},{"t":5.705,"v":0.35,"s":"rectified EMG"},{"t":5.7075,"v":0.2,"s":"rectified EMG"},{"t":5.71,"v":0.26,"s":"rectified EMG"},{"t":5.7125,"v":0.05,"s":"rectified EMG"},{"t":5.715,"v":0.38,"s":"rectified EMG"},{"t":5.7175,"v":0.13,"s":"rectified EMG"},{"t":5.72,"v":0.22,"s":"rectified EMG"},{"t":5.7225,"v":0.17,"s":"rectified EMG"},{"t":5.725,"v":0.3,"s":"rectified EMG"},
{"t":5.7275,"v":0.04,"s":"rectified EMG"},{"t":5.73,"v":0.21,"s":"rectified EMG"},{"t":5.7325,"v":0.11,"s":"rectified EMG"},{"t":5.735,"v":0.25,"s":"rectified EMG"},{"t":5.7375,"v":0.06,"s":"rectified EMG"},{"t":5.74,"v":0.18,"s":"rectified EMG"},{"t":5.7425,"v":0.14,"s":"rectified EMG"},{"t":5.745,"v":0.23,"s":"rectified EMG"},{"t":5.7475,"v":0.03,"s":"rectified EMG"},{"t":5.75,"v":0.16,"s":"rectified EMG"},
{"t":5.7525,"v":0.09,"s":"rectified EMG"},{"t":5.755,"v":0.2,"s":"rectified EMG"},{"t":5.7575,"v":0.05,"s":"rectified EMG"},{"t":5.76,"v":0.13,"s":"rectified EMG"},{"t":5.7625,"v":0.17,"s":"rectified EMG"},{"t":5.765,"v":0.04,"s":"rectified EMG"},{"t":5.7675,"v":0.11,"s":"rectified EMG"},{"t":5.77,"v":0.19,"s":"rectified EMG"},{"t":5.7725,"v":0.06,"s":"rectified EMG"},{"t":5.775,"v":0.12,"s":"rectified EMG"},
{"t":5.7775,"v":0.03,"s":"rectified EMG"},{"t":5.78,"v":0.1,"s":"rectified EMG"},{"t":5.7825,"v":0.15,"s":"rectified EMG"},{"t":5.785,"v":0.05,"s":"rectified EMG"},{"t":5.7875,"v":0.08,"s":"rectified EMG"},{"t":5.79,"v":0.13,"s":"rectified EMG"},{"t":5.7925,"v":0.02,"s":"rectified EMG"},{"t":5.795,"v":0.09,"s":"rectified EMG"},{"t":5.7975,"v":0.11,"s":"rectified EMG"},{"t":5.8,"v":0.04,"s":"rectified EMG"},
{"t":5.805,"v":0.07,"s":"rectified EMG"},{"t":5.81,"v":0.02,"s":"rectified EMG"},{"t":5.815,"v":0.1,"s":"rectified EMG"},{"t":5.82,"v":0.04,"s":"rectified EMG"},{"t":5.825,"v":0.06,"s":"rectified EMG"},{"t":5.83,"v":0.13,"s":"rectified EMG"},{"t":5.835,"v":0.03,"s":"rectified EMG"},{"t":5.84,"v":0.08,"s":"rectified EMG"},{"t":5.845,"v":0.02,"s":"rectified EMG"},{"t":5.85,"v":0.11,"s":"rectified EMG"},
{"t":5.855,"v":0.05,"s":"rectified EMG"},{"t":5.86,"v":0.03,"s":"rectified EMG"},{"t":5.865,"v":0.09,"s":"rectified EMG"},{"t":5.87,"v":0.04,"s":"rectified EMG"},{"t":5.875,"v":0.07,"s":"rectified EMG"},{"t":5.88,"v":0.02,"s":"rectified EMG"},{"t":5.885,"v":0.12,"s":"rectified EMG"},{"t":5.89,"v":0.05,"s":"rectified EMG"},{"t":5.895,"v":0.08,"s":"rectified EMG"},{"t":5.9,"v":0.03,"s":"rectified EMG"},
{"t":5.905,"v":0.06,"s":"rectified EMG"},{"t":5.91,"v":0.1,"s":"rectified EMG"},{"t":5.915,"v":0.02,"s":"rectified EMG"},{"t":5.92,"v":0.07,"s":"rectified EMG"},{"t":5.925,"v":0.04,"s":"rectified EMG"},{"t":5.93,"v":0.11,"s":"rectified EMG"},{"t":5.935,"v":0.03,"s":"rectified EMG"},{"t":5.94,"v":0.06,"s":"rectified EMG"},{"t":5.945,"v":0.09,"s":"rectified EMG"},{"t":5.95,"v":0.02,"s":"rectified EMG"},
{"t":5.955,"v":0.05,"s":"rectified EMG"},{"t":5.96,"v":0.12,"s":"rectified EMG"},{"t":5.965,"v":0.04,"s":"rectified EMG"},{"t":5.97,"v":0.08,"s":"rectified EMG"},{"t":5.975,"v":0.03,"s":"rectified EMG"},{"t":5.98,"v":0.15,"s":"rectified EMG"},{"t":5.985,"v":0.28,"s":"rectified EMG"},{"t":5.99,"v":0.05,"s":"rectified EMG"},{"t":5.995,"v":0.1,"s":"rectified EMG"},{"t":6.0,"v":0.03,"s":"rectified EMG"},
{"t":6.005,"v":0.07,"s":"rectified EMG"},{"t":6.01,"v":0.13,"s":"rectified EMG"},{"t":6.015,"v":0.02,"s":"rectified EMG"},{"t":6.02,"v":0.06,"s":"rectified EMG"},{"t":6.025,"v":0.04,"s":"rectified EMG"},{"t":6.03,"v":0.09,"s":"rectified EMG"},{"t":6.035,"v":0.03,"s":"rectified EMG"},{"t":6.04,"v":0.11,"s":"rectified EMG"},{"t":6.045,"v":0.05,"s":"rectified EMG"},{"t":6.05,"v":0.02,"s":"rectified EMG"},
{"t":6.055,"v":0.08,"s":"rectified EMG"},{"t":6.06,"v":0.04,"s":"rectified EMG"},{"t":6.065,"v":0.1,"s":"rectified EMG"},{"t":6.07,"v":0.03,"s":"rectified EMG"},{"t":6.075,"v":0.06,"s":"rectified EMG"},{"t":6.08,"v":0.12,"s":"rectified EMG"},{"t":6.085,"v":0.02,"s":"rectified EMG"},{"t":6.09,"v":0.07,"s":"rectified EMG"},{"t":6.095,"v":0.04,"s":"rectified EMG"},{"t":6.1,"v":0.09,"s":"rectified EMG"},
{"t":6.105,"v":0.03,"s":"rectified EMG"},{"t":6.11,"v":0.06,"s":"rectified EMG"},{"t":6.115,"v":0.1,"s":"rectified EMG"},{"t":6.12,"v":0.02,"s":"rectified EMG"},{"t":6.125,"v":0.05,"s":"rectified EMG"}
],
"env": [
{"t":3.81,"v":0,"s":"energy envelope"},{"t":4.05,"v":0,"s":"energy envelope"},{"t":4.1,"v":0.003,"s":"energy envelope"},{"t":4.15,"v":0.01,"s":"energy envelope"},{"t":4.2,"v":0.03,"s":"energy envelope"},{"t":4.225,"v":0.05,"s":"energy envelope"},{"t":4.25,"v":0.08,"s":"energy envelope"},{"t":4.276,"v":0.12,"s":"energy envelope"},{"t":4.31,"v":0.2,"s":"energy envelope"},{"t":4.353,"v":0.29,"s":"energy envelope"},{"t":4.396,"v":0.348,"s":"energy envelope"},{"t":4.42,"v":0.364,"s":"energy envelope"},{"t":4.439,"v":0.368,"s":"energy envelope"},{"t":4.46,"v":0.36,"s":"energy envelope"},{"t":4.482,"v":0.338,"s":"energy envelope"},{"t":4.525,"v":0.288,"s":"energy envelope"},{"t":4.567,"v":0.239,"s":"energy envelope"},{"t":4.61,"v":0.199,"s":"energy envelope"},{"t":4.653,"v":0.149,"s":"energy envelope"},{"t":4.695,"v":0.099,"s":"energy envelope"},{"t":4.738,"v":0.06,"s":"energy envelope"},{"t":4.781,"v":0.03,"s":"energy envelope"},{"t":4.83,"v":0.012,"s":"energy envelope"},{"t":4.9,"v":0.003,"s":"energy envelope"},{"t":4.95,"v":0,"s":"energy envelope"},{"t":5.05,"v":0,"s":"energy envelope"},{"t":5.12,"v":0.004,"s":"energy envelope"},{"t":5.18,"v":0.015,"s":"energy envelope"},{"t":5.22,"v":0.03,"s":"energy envelope"},{"t":5.251,"v":0.05,"s":"energy envelope"},{"t":5.294,"v":0.08,"s":"energy envelope"},{"t":5.337,"v":0.129,"s":"energy envelope"},{"t":5.38,"v":0.209,"s":"energy envelope"},{"t":5.423,"v":0.308,"s":"energy envelope"},{"t":5.465,"v":0.388,"s":"energy envelope"},{"t":5.49,"v":0.415,"s":"energy envelope"},{"t":5.508,"v":0.424,"s":"energy envelope"},{"t":5.53,"v":0.415,"s":"energy envelope"},{"t":5.551,"v":0.388,"s":"energy envelope"},{"t":5.594,"v":0.308,"s":"energy envelope"},{"t":5.636,"v":0.219,"s":"energy envelope"},{"t":5.679,"v":0.139,"s":"energy envelope"},{"t":5.722,"v":0.08,"s":"energy envelope"},{"t":5.765,"v":0.04,"s":"energy envelope"},{"t":5.81,"v":0.015,"s":"energy envelope"},{"t":5.86,"v":0.004,"s":"energy envelope"},{"t":5.92,"v":0,"s":"energy envelope"},{"t":6.127,"v":0,"s":"energy envelope"}
],
"act": [
{"t":3.81,"v":0,"s":"active phase"},{"t":4.2779,"v":0,"s":"active phase"},{"t":4.278,"v":1,"s":"active phase"},{"t":4.4345,"v":1,"s":"active phase"},{"t":4.435,"v":2,"s":"active phase"},{"t":4.4355,"v":1,"s":"active phase"},{"t":4.6829,"v":1,"s":"active phase"},{"t":4.683,"v":0,"s":"active phase"},{"t":5.3439,"v":0,"s":"active phase"},{"t":5.344,"v":1,"s":"active phase"},{"t":5.5035,"v":1,"s":"active phase"},{"t":5.504,"v":2,"s":"active phase"},{"t":5.5045,"v":1,"s":"active phase"},{"t":5.6999,"v":1,"s":"active phase"},{"t":5.7,"v":0,"s":"active phase"},{"t":6.127,"v":0,"s":"active phase"}
],
"labels": [
{"t":4.442,"v":1.353,"label":"active phase"},{"t":4.974,"v":1.353,"label":"non-active phase"}
],
"arrows": [
{"t":4.272,"t2":4.691,"v":1.254},{"t":4.7,"t2":5.341,"v":1.254}
],
"heads": [
{"t":4.272,"v":1.254,"d":"L"},{"t":4.691,"v":1.254,"d":"R"},{"t":4.7,"v":1.254,"d":"L"},{"t":5.341,"v":1.254,"d":"R"}
]
},
"encoding": {
  "x": {"field": "t", "type": "quantitative", "scale": {"domain": [3.81, 6.127], "nice": false, "zero": false},
        "axis": {"title": "time (s)", "values": [4, 4.2, 4.4, 4.6, 4.8, 5, 5.2, 5.4, 5.6, 5.8, 6], "format": "~g", "labelBaseline": "alphabetic", "labelPadding": 37, "titleFontSize": 18, "titleFontWeight": "bold", "titleY": 55, "titleBaseline": "middle"}},
  "y": {"field": "v", "type": "quantitative", "scale": {"domain": [-0.253, 2.11], "nice": false, "zero": false},
        "axis": {"title": "EMG (mV)", "values": [0, 0.5, 1, 1.5, 2], "format": "~g", "labelPadding": 19, "titleFontSize": 18, "titleFontWeight": "normal", "titleX": -53, "titleY": 190, "titleAlign": "center", "titleBaseline": "middle", "titleAngle": -90}}
},
"layer": [
  {"data": {"name": "labels"}, "mark": {"type": "text", "fontSize": 17, "font": "Liberation Sans", "color": "#222", "baseline": "middle", "align": "center"},
   "encoding": {"text": {"field": "label"}}},
  {"data": {"name": "emg"}, "mark": {"type": "line", "strokeJoin": "miter"},
   "encoding": {
     "color": {"field": "s", "type": "nominal", "scale": {"domain": ["rectified EMG", "energy envelope", "active phase"], "range": ["#7a7a7a", "#000000", "#000000"]},
               "legend": {"title": null, "orient": "none", "legendX": 730, "legendY": 19, "symbolType": "M-3,0H1", "symbolSize": 324, "labelFontSize": 19, "labelFont": "Liberation Sans", "labelColor": "#222", "labelOffset": 2, "rowPadding": 5.5, "padding": 0}},
     "strokeWidth": {"field": "s", "type": "nominal", "scale": {"type": "ordinal", "domain": ["rectified EMG", "energy envelope", "active phase"], "range": [1, 3, 3]}},
     "strokeDash": {"field": "s", "type": "nominal", "scale": {"domain": ["rectified EMG", "energy envelope", "active phase"], "range": [[1, 0], [1, 0], [3, 3.5]]}}
   }},
  {"data": {"name": "arrows"}, "mark": {"type": "rule", "color": "#000", "strokeWidth": 2.2},
   "encoding": {"x2": {"field": "t2"}}},
  {"data": {"name": "heads"}, "mark": {"type": "point", "filled": true, "color": "#000", "size": 100, "opacity": 1, "strokeWidth": 0},
   "encoding": {"shape": {"field": "d", "type": "nominal", "scale": {"domain": ["L", "R"], "range": ["M0,0L2,-0.7L2,0.7Z", "M0,0L-2,-0.7L-2,0.7Z"]}, "legend": null}}},
  {"data": {"name": "env"}, "mark": {"type": "line", "interpolate": "monotone"},
   "encoding": {
     "color": {"field": "s", "type": "nominal", "scale": {"domain": ["rectified EMG", "energy envelope", "active phase"], "range": ["#7a7a7a", "#000000", "#000000"]}},
     "strokeWidth": {"field": "s", "type": "nominal", "scale": {"type": "ordinal", "domain": ["rectified EMG", "energy envelope", "active phase"], "range": [1, 3, 3]}},
     "strokeDash": {"field": "s", "type": "nominal", "scale": {"domain": ["rectified EMG", "energy envelope", "active phase"], "range": [[1, 0], [1, 0], [3, 3.5]]}}
   }},
  {"data": {"name": "act"}, "mark": {"type": "line", "strokeCap": "butt"},
   "encoding": {
     "color": {"field": "s", "type": "nominal", "scale": {"domain": ["rectified EMG", "energy envelope", "active phase"], "range": ["#7a7a7a", "#000000", "#000000"]}},
     "strokeWidth": {"field": "s", "type": "nominal", "scale": {"type": "ordinal", "domain": ["rectified EMG", "energy envelope", "active phase"], "range": [1, 3, 3]}},
     "strokeDash": {"field": "s", "type": "nominal", "scale": {"domain": ["rectified EMG", "energy envelope", "active phase"], "range": [[1, 0], [1, 0], [3, 3.5]]}}
   }}
]
}
